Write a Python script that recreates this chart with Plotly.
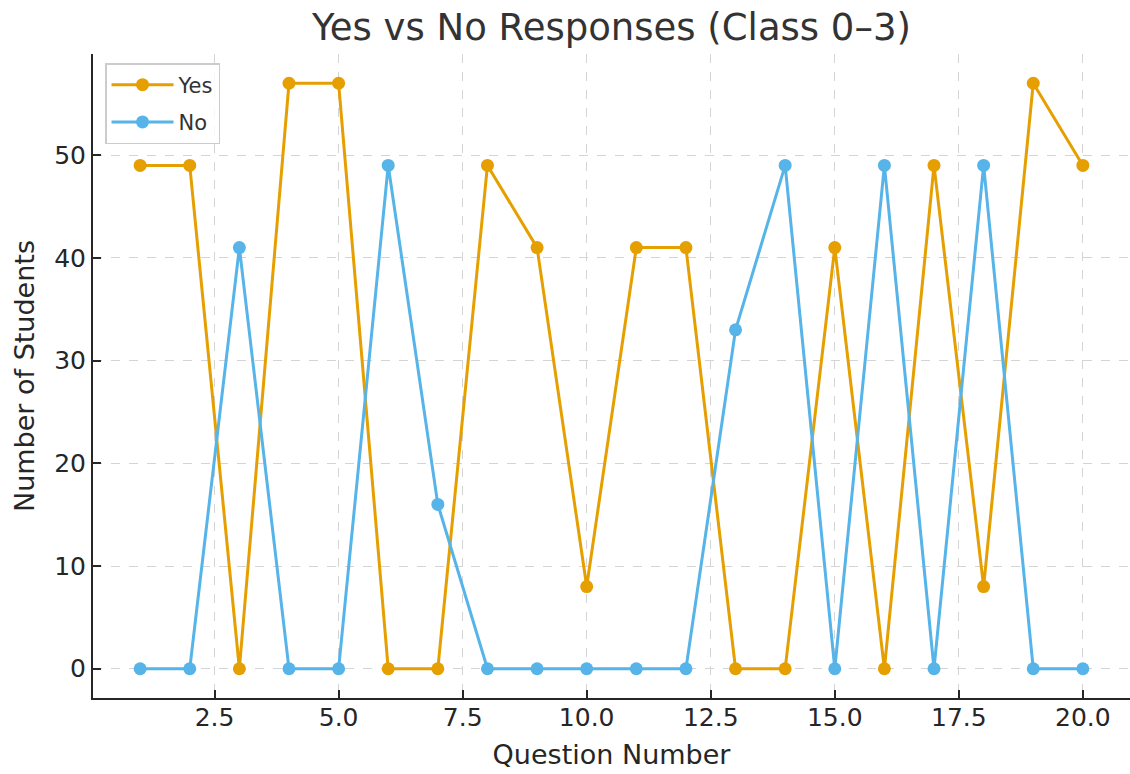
import plotly.graph_objects as go

questions = list(range(1, 21))
yes_counts = [49, 49, 0, 57, 57, 0, 0, 49, 41, 8, 41, 41, 0, 0, 41, 0, 49, 8, 57, 49]
no_counts = [0, 0, 41, 0, 0, 49, 16, 0, 0, 0, 0, 0, 33, 49, 0, 49, 0, 49, 0, 0]
x_tick_vals = [2.5, 5, 7.5, 10, 12.5, 15, 17.5, 20]
x_tick_text = ["2.5", "5.0", "7.5", "10.0", "12.5", "15.0", "17.5", "20.0"]
y_tick_vals = [0, 10, 20, 30, 40, 50]

fig = go.Figure()
fig.add_trace(go.Scatter(x=questions, y=yes_counts, mode="lines+markers", name="Yes", legendgroup="yes",
                         line=dict(color="#E69F00", width=3), marker=dict(size=13, color="#E69F00")))
fig.add_trace(go.Scatter(x=questions, y=no_counts, mode="lines+markers", name="No", legendgroup="no",
                         line=dict(color="#56B4E9", width=3), marker=dict(size=13, color="#56B4E9")))

font = "DejaVu Sans"
axis_common = dict(showgrid=True, gridcolor="#d4d4d4", griddash="dash", gridwidth=1,
                   showline=True, linecolor="#262626", linewidth=2, ticks="inside", ticklen=8,
                   tickwidth=2, tickcolor="#262626", zeroline=False,
                   tickfont=dict(size=25, color="#262626"))
fig.update_layout(
    width=1130, height=774,
    margin=dict(l=93, r=0, t=54, b=76),
    paper_bgcolor="white", plot_bgcolor="white",
    font=dict(family=font, color="#262626", size=25),
    title=dict(text="Yes vs No Responses (Class 0–3)", x=0.5, xref="paper", xanchor="center",
               y=0.965, yanchor="middle", font=dict(size=37, color="#333333")),
    showlegend=True,
    legend=dict(x=0.0116, y=0.986, xanchor="left", yanchor="top", bgcolor="rgba(255,255,255,0.8)",
                bordercolor="#cccccc", borderwidth=1.5, itemwidth=62, tracegroupgap=7,
                traceorder="grouped", font=dict(size=21, color="#333333")),
    xaxis=dict(range=[0.05, 20.95], tickmode="array", tickvals=x_tick_vals, ticktext=x_tick_text,
               ticklabelstandoff=-4,
               title=dict(text="Question Number", font=dict(size=27), standoff=14), **axis_common),
    yaxis=dict(range=[-2.85, 59.85], tickmode="array", tickvals=y_tick_vals,
               ticklabelstandoff=0,
               title=dict(text="Number of Students", font=dict(size=27), standoff=12), **axis_common),
)
fig.write_html("out.html", config={"displayModeBar": False},
               post_script="document.body.style.margin='0px';")
